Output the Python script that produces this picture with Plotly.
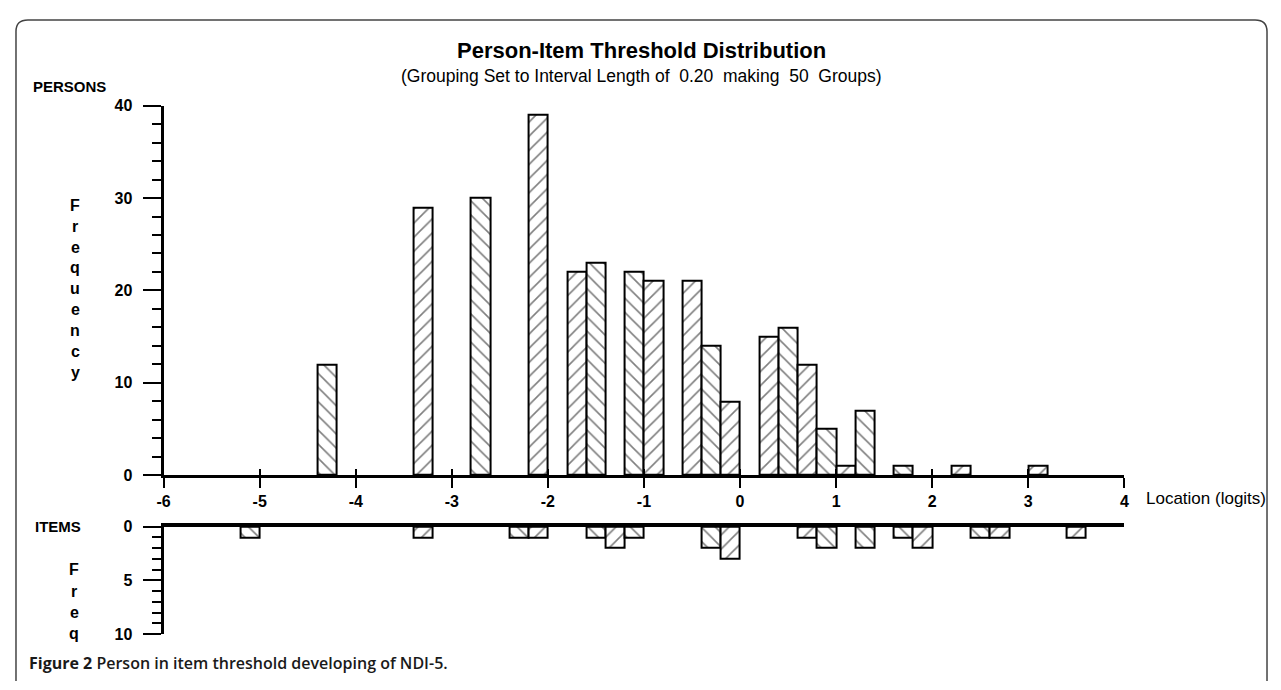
import plotly.graph_objects as go

# The page body keeps the browser's default 8px margin, so the figure is
# sized to fit inside the 1281x690 window and positions are given in
# window pixels, shifted by that margin.
WIN_W, WIN_H = 1281, 690
OFF = 8
W, H = WIN_W - 2 * OFF, WIN_H - 2 * OFF - 1

# ---- data ----
bin_width = 0.2
bin_start = -6.0
person_centers = [-4.3, -3.3, -2.7, -2.1, -1.7, -1.5, -1.1, -0.9, -0.5, -0.3, -0.1,
                  0.3, 0.5, 0.7, 0.9, 1.1, 1.3, 1.7, 2.3, 3.1]
person_counts = [12, 29, 30, 39, 22, 23, 22, 21, 21, 14, 8,
                 15, 16, 12, 5, 1, 7, 1, 1, 1]
item_centers = [-5.1, -3.3, -2.3, -2.1, -1.5, -1.3, -1.1, -0.3, -0.1,
                0.7, 0.9, 1.3, 1.7, 1.9, 2.5, 2.7, 3.5]
item_counts = [1, 1, 1, 1, 1, 2, 1, 2, 3, 1, 2, 2, 1, 2, 1, 1, 1]
x_ticks = [-6, -5, -4, -3, -2, -1, 0, 1, 2, 3, 4]
person_yticks = [0, 10, 20, 30, 40]
item_yticks = [0, 5, 10]

title = "Person-Item Threshold Distribution"
subtitle = "(Grouping Set to Interval Length of\u00a0\u00a00.20\u00a0\u00a0making\u00a0\u00a050\u00a0\u00a0Groups)"
caption_bold = "Figure 2"
caption_rest = " Person in item threshold developing of NDI-5."


def hatch(centers):
    out = []
    for c in centers:
        idx = int(round((c - bin_start) / bin_width - 0.5))
        out.append("/" if idx % 2 else "\\")
    return out


def px(x):
    return (x - OFF) / W


def py(y):
    return 1 - (y - OFF) / H


SANS = "Liberation Sans, Arial, sans-serif"
TICKFONT = dict(family=SANS, size=16, color="black", weight="bold")

x_dom = [px(158), px(1128)]

fig = go.Figure()


def bar_marker(centers):
    return dict(color="white", line=dict(color="black", width=2),
                pattern=dict(shape=hatch(centers), fgcolor="black",
                             bgcolor="white", size=10, solidity=0.16))


fig.add_trace(go.Bar(
    x=person_centers, y=person_counts, width=bin_width,
    xaxis="x", yaxis="y", marker=bar_marker(person_centers),
    hoverinfo="x+y", showlegend=False,
))
fig.add_trace(go.Bar(
    x=item_centers, y=item_counts, width=bin_width,
    xaxis="x2", yaxis="y2", marker=bar_marker(item_centers),
    hoverinfo="x+y", showlegend=False,
))
# empty trace to carry the inward half of the x ticks
fig.add_trace(go.Scatter(x=[], y=[], xaxis="x3", yaxis="y", showlegend=False))

common_x = dict(range=[-6, 4], showgrid=False, zeroline=False, fixedrange=True)

fig.update_layout(
    width=W, height=H,
    margin=dict(l=0, r=0, t=0, b=0),
    paper_bgcolor="white", plot_bgcolor="white",
    bargap=0,
    xaxis=dict(**common_x, domain=x_dom, anchor="y",
               showline=True, linecolor="black", linewidth=3,
               ticks="outside", ticklen=10, tickwidth=1.5, tickcolor="black",
               tickvals=x_ticks, ticktext=[str(v) for v in x_ticks],
               tickfont=TICKFONT, ticklabelstandoff=0),
    xaxis3=dict(**common_x, domain=x_dom, anchor="y", overlaying="x",
                showline=False, ticks="inside", ticklen=6, tickwidth=1.5,
                tickcolor="black", tickvals=x_ticks, showticklabels=False),
    yaxis=dict(domain=[py(479), py(100)], range=[0, 40], anchor="x",
               showgrid=False, zeroline=False, fixedrange=True,
               showline=True, linecolor="black", linewidth=3,
               ticks="outside", ticklen=18, tickwidth=1.5, tickcolor="black",
               tickvals=person_yticks, tickfont=TICKFONT, ticklabelstandoff=7,
               minor=dict(dtick=2, ticks="outside", ticklen=9, tickwidth=1.5,
                          tickcolor="black", showgrid=False)),
    xaxis2=dict(**common_x, domain=x_dom, anchor="y2", side="top",
                showline=True, linecolor="black", linewidth=3.5,
                ticks="", showticklabels=False),
    yaxis2=dict(domain=[py(642), py(532)], range=[10, 0], anchor="x2",
                showgrid=False, zeroline=False, fixedrange=True,
                showline=True, linecolor="black", linewidth=3,
                ticks="outside", ticklen=18, tickwidth=1.5, tickcolor="black",
                tickvals=item_yticks, tickfont=TICKFONT, ticklabelstandoff=7,
                minor=dict(dtick=1, ticks="outside", ticklen=9, tickwidth=1.5,
                           tickcolor="black", showgrid=False)),
)

ann = []


def txt(text, x, y, size=16, xanchor="left", family=SANS, weight="normal"):
    ann.append(dict(text=text, x=px(x), y=py(y), xref="paper", yref="paper",
                    xanchor=xanchor, yanchor="middle", showarrow=False,
                    font=dict(family=family, size=size, color="black",
                              weight=weight)))


txt(title, 641, 43, size=22, xanchor="center", weight="bold")
txt(subtitle, 641, 70, size=17.5, xanchor="center")
txt("PERSONS", 24, 80, size=15, weight="bold")
txt("ITEMS", 26, 532, size=15, weight="bold")
txt("Location (logits)", 1148, 503, size=17)

for k, ch in enumerate("Frequency"):
    txt(ch, 69, 202 + k * 21.5, size=16, xanchor="center", weight="bold")
for k, ch in enumerate("Freq"):
    txt(ch, 68, 576 + k * 22, size=16, xanchor="center", weight="bold")

ann.append(dict(text="<b>" + caption_bold + "</b>" + caption_rest,
                x=px(20), y=py(672), xref="paper", yref="paper",
                xanchor="left", yanchor="middle", showarrow=False,
                font=dict(family="Open Sans, Noto Sans, sans-serif", size=16,
                          color="#1a1a1a", weight=600)))
fig.update_layout(annotations=ann)

# rounded frame (bottom runs off the page)
x0, y0, x1, y1, r = 9, 12, 1272, 720, 12
fig.add_shape(type="path",
              path=(f"M {px(x0+r)},{py(y0)} L {px(x1-r)},{py(y0)} "
                    f"Q {px(x1)},{py(y0)} {px(x1)},{py(y0+r)} L {px(x1)},{py(y1)} "
                    f"M {px(x0+r)},{py(y0)} Q {px(x0)},{py(y0)} {px(x0)},{py(y0+r)} "
                    f"L {px(x0)},{py(y1)}"),
              xref="paper", yref="paper",
              line=dict(color="#444", width=1.5))

fig.write_html("out.html")
